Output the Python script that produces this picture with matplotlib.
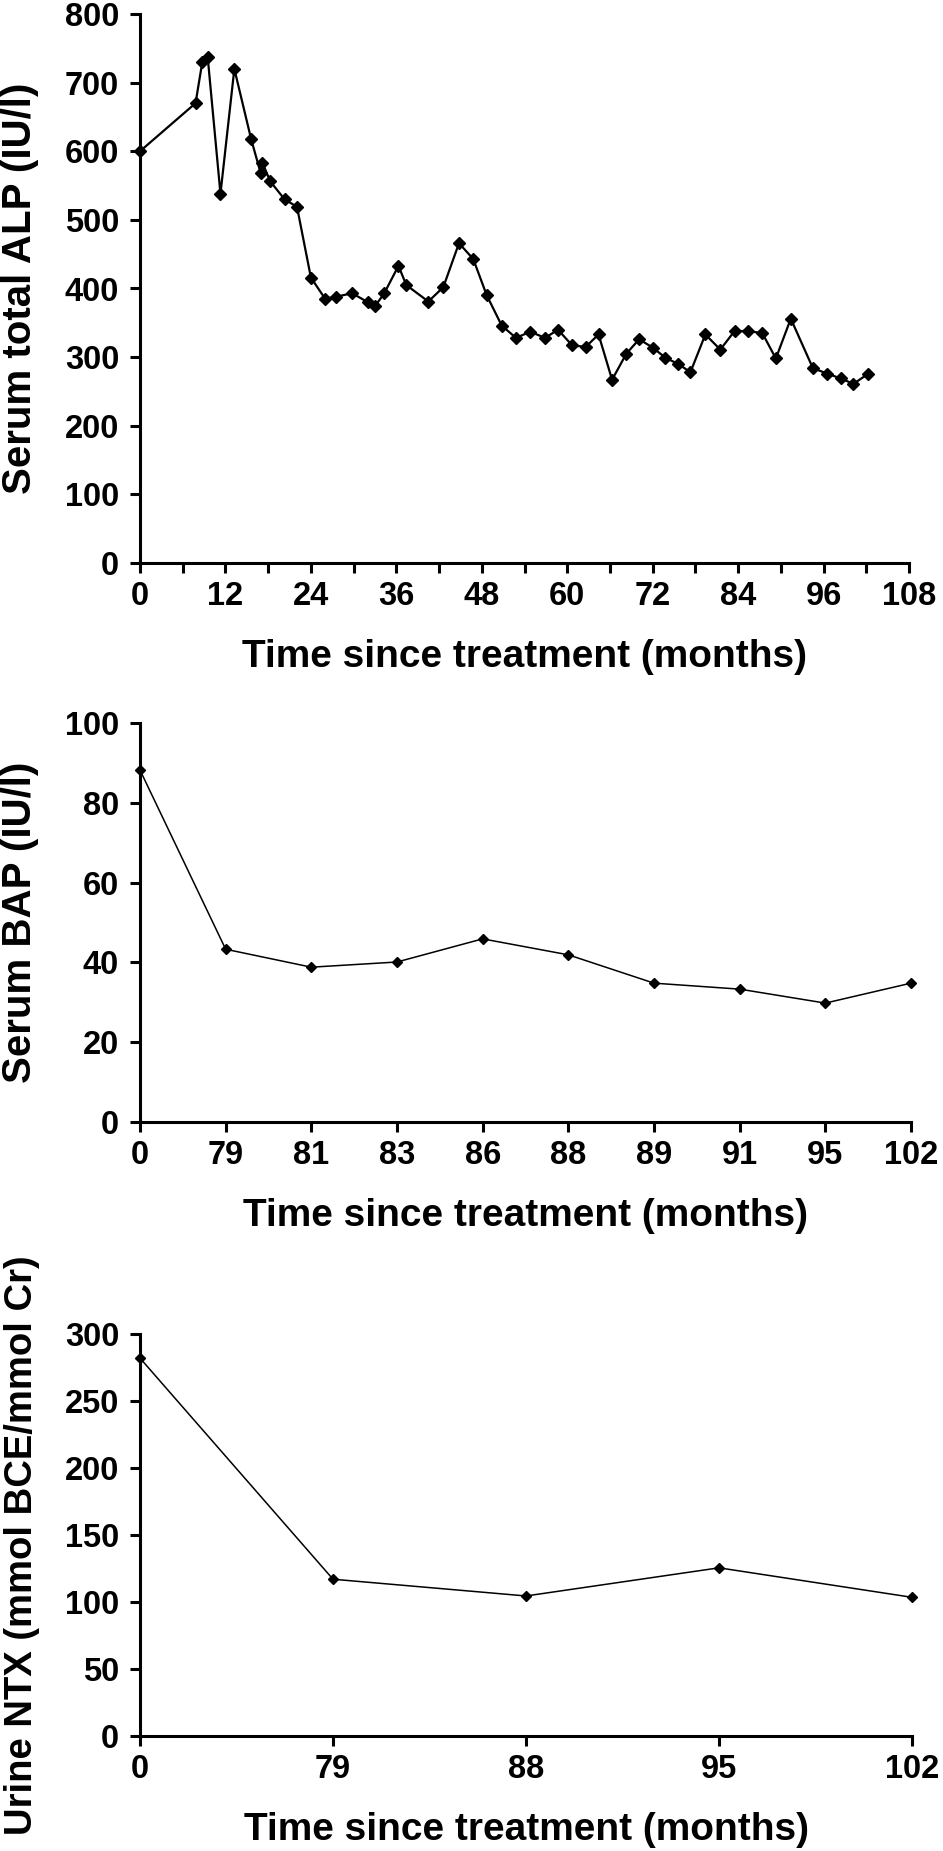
import matplotlib
matplotlib.use("Agg")
import matplotlib.pyplot as plt
from matplotlib.ticker import MultipleLocator, FuncFormatter

plt.rcParams['font.family'] = ['Liberation Sans', 'DejaVu Sans']
plt.rcParams['font.weight'] = 'bold'

# ---- data ----
alp_months = [0, 7.8, 8.75, 9.5, 11.3, 13.25, 15.6, 16.95, 17.2, 18.3,
              20.3, 22.05, 24, 26, 27.5, 29.8, 32, 33, 34.3, 36.3,
              37.4, 40.5, 42.6, 44.8, 46.8, 48.7, 50.8, 52.8, 54.8, 56.9,
              58.7, 60.7, 62.6, 64.4, 66.3, 68.3, 70.1, 72.0, 73.8, 75.6,
              77.3, 79.4, 81.5, 83.5, 85.4, 87.4, 89.3, 91.4, 94.5, 96.5,
              98.4, 100.2, 102.3]
alp_values = [600, 670, 730, 738, 538, 720, 618, 568, 583, 556,
              530, 519, 416, 385, 388, 393, 380, 374, 393, 433,
              405, 381, 402, 466, 443, 390, 346, 328, 337, 328,
              340, 317, 315, 333, 267, 305, 326, 314, 299, 290,
              278, 333, 311, 338, 338, 335, 298, 356, 284, 276,
              269, 261, 276]

bap_labels = ['0', '79', '81', '83', '86', '88', '89', '91', '95', '102']
bap_values = [88.2, 43.3, 38.8, 40.1, 45.9, 41.9, 34.8, 33.3, 29.8, 34.8]

ntx_labels = ['0', '79', '88', '95', '102']
ntx_values = [282, 117, 104.5, 125.5, 103.5]

W, H = 943, 1851
fig = plt.figure(figsize=(W / 100, H / 100), dpi=100)


def rect(left, right, top, bottom):
    return [left / W, 1 - bottom / H, (right - left) / W, (bottom - top) / H]


ax1 = fig.add_axes(rect(140, 909, 14, 563))
ax2 = fig.add_axes(rect(140, 911, 723, 1122))
ax3 = fig.add_axes(rect(140, 912, 1334, 1736))

TICK_FS = 23.5
XLAB_FS = 28
YLAB_FS = 29
YLAB3_FS = 27.5

for ax in (ax1, ax2, ax3):
    for s in ('top', 'right'):
        ax.spines[s].set_visible(False)
    for s in ('left', 'bottom'):
        ax.spines[s].set_linewidth(2.2)
        ax.spines[s].set_color('black')
    ax.tick_params(axis='both', direction='out', length=7, width=2.2,
                   labelsize=TICK_FS, pad=6, color='black')
    ax.tick_params(axis='y', pad=8)

# ---- top: serum total ALP ----
ax1.plot(alp_months, alp_values, color='black', lw=1.6, marker='D',
         markersize=6.3, markerfacecolor='black', markeredgecolor='black',
         clip_on=False)
ax1.set_xlim(0, 108)
ax1.set_ylim(0, 800)
ax1.xaxis.set_major_locator(MultipleLocator(6))
ax1.xaxis.set_major_formatter(FuncFormatter(
    lambda v, p: f"{int(round(v))}" if int(round(v)) % 12 == 0 else ""))
ax1.yaxis.set_major_locator(MultipleLocator(100))
ax1.set_xlabel('Time since treatment (months)', fontsize=XLAB_FS,
               fontweight='bold', va='top')
ax1.xaxis.set_label_coords(0.5, -76 / 549)
ax1.set_ylabel('Serum total ALP (IU/l)', fontsize=YLAB_FS, fontweight='bold',
               va='center')
ax1.yaxis.set_label_coords((20 - 140) / 769, 0.5)

# ---- middle: serum BAP ----
x2 = list(range(len(bap_labels)))
ax2.plot(x2, bap_values, color='black', lw=1.1, marker='D', markersize=4.8,
         markerfacecolor='black', markeredgecolor='black', clip_on=False)
ax2.set_xlim(0, len(bap_labels) - 1)
ax2.set_ylim(0, 100)
ax2.set_xticks(x2)
ax2.set_xticklabels(bap_labels)
ax2.yaxis.set_major_locator(MultipleLocator(20))
ax2.set_xlabel('Time since treatment (months)', fontsize=XLAB_FS,
               fontweight='bold', va='top')
ax2.xaxis.set_label_coords(0.5, -76 / 399)
ax2.set_ylabel('Serum BAP (IU/l)', fontsize=YLAB_FS, fontweight='bold',
               va='center')
ax2.yaxis.set_label_coords((20 - 140) / 771, 0.5)

# ---- bottom: urine NTX ----
x3 = list(range(len(ntx_labels)))
ax3.plot(x3, ntx_values, color='black', lw=1.1, marker='D', markersize=4.8,
         markerfacecolor='black', markeredgecolor='black', clip_on=False)
ax3.set_xlim(0, len(ntx_labels) - 1)
ax3.set_ylim(0, 300)
ax3.set_xticks(x3)
ax3.set_xticklabels(ntx_labels)
ax3.yaxis.set_major_locator(MultipleLocator(50))
ax3.set_xlabel('Time since treatment (months)', fontsize=XLAB_FS,
               fontweight='bold', va='top')
ax3.xaxis.set_label_coords(0.5, -76 / 402)
ax3.set_ylabel('Urine NTX (mmol BCE/mmol Cr)', fontsize=YLAB3_FS,
               fontweight='bold', va='center')
ax3.yaxis.set_label_coords((22 - 140) / 772, (1736 - 1545) / 402)

for ax in (ax1, ax2, ax3):
    for lbl in ax.get_xticklabels() + ax.get_yticklabels():
        lbl.set_fontweight('bold')

fig.savefig('out.png', dpi=100, facecolor='white')
